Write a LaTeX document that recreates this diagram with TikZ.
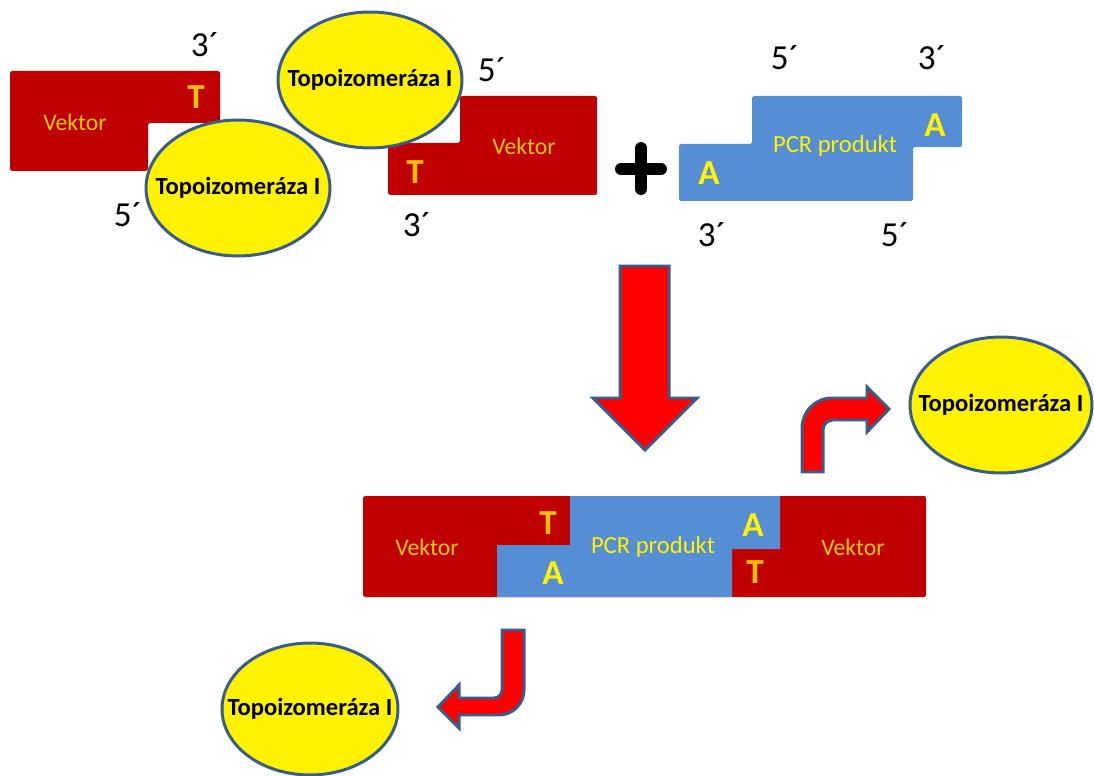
\documentclass[tikz,border=0pt]{standalone}
\usepackage{fontspec}
\setmainfont{Carlito}
\usepackage{xcolor}
\usepackage{tikz}
\usetikzlibrary{shapes,positioning,calc}

\definecolor{vecred}{RGB}{192,0,0}
\definecolor{pcrblue}{RGB}{85,142,213}
\definecolor{edgeblue}{RGB}{56,93,138}
\definecolor{baseorange}{RGB}{255,192,0}
\definecolor{vektext}{RGB}{225,200,0}

\begin{document}
\begin{tikzpicture}[x=0.02cm, y=-0.02cm,
    vec/.style={fill=vecred, rounded corners=1pt},
    pcr/.style={fill=pcrblue, rounded corners=1pt},
    topo/.style={draw=edgeblue, fill=yellow, ellipse, line width=1.7pt, inner sep=0pt, minimum width=3.68cm, minimum height=2.72cm},
    topotext/.style={font=\fontsize{14}{16}\selectfont\bfseries, text=black},
    vektor/.style={font=\fontsize{13.5}{16}\selectfont, text=vektext},
    pcrtext/.style={font=\fontsize{14}{16}\selectfont, text=yellow},
    baseT/.style={font=\fontsize{20}{24}\selectfont\bfseries, text=baseorange},
    baseA/.style={font=\fontsize{20}{24}\selectfont\bfseries, text=yellow},
    prime/.style={font=\fontsize{20}{24}\selectfont, text=black},
    blockarrow/.style={draw=edgeblue, fill=red, line width=1.7pt, line join=miter}
]
    \useasboundingbox (0,0) rectangle (1094,776);

    % Opened vector, left half
    \path[vec] (10,71) -- (220,71) -- (220,123) -- (148,123) -- (148,171) -- (10,171) -- cycle;
    \node [vektor] (vekL) at (75,122) {Vektor};
    \node [baseT] (tL) at (196,97) {T};
    \node [prime] (pL3) at (205,45) {3´};
    \node [prime] (pL5) at (128,215) {5´};
    \node [topo, label={[topotext]center:Topoizomeráza I}] (topoL) at (238,188) {};

    % Opened vector, right half
    \path[vec] (388,143) -- (460,143) -- (460,96) -- (597,96) -- (597,195) -- (388,195) -- cycle;
    \node [vektor] (vekR) at (524,146) {Vektor};
    \node [baseT] (tR) at (415,172) {T};
    \node [prime] (pR5) at (492,70) {5´};
    \node [prime] (pR3) at (417,225) {3´};
    \node [topo, label={[topotext]center:Topoizomeráza I}] (topoR) at (370,80) {};

    % Plus
    \draw [line width=6.8pt, line cap=round] (621,169) -- (661,169) (641,148) -- (641,189);

    % PCR product with A overhangs
    \path[pcr] (679,144) -- (752,144) -- (752,96) -- (962,96) -- (962,147) -- (913,147) -- (913,201) -- (679,201) -- cycle;
    \node [pcrtext] (pcr) at (835,146) {PCR produkt};
    \node [baseA] (aL) at (709,173) {A};
    \node [baseA] (aR) at (935,125) {A};
    \node [prime] (pP5) at (785,58) {5´};
    \node [prime] (pP3) at (932,58) {3´};
    \node [prime] (pP3b) at (712,235) {3´};
    \node [prime] (pP5b) at (895,235) {5´};

    % Ligation arrow
    \path[blockarrow] (620,266) -- (669,266) -- (669,398) -- (697,398) -- (645,450) -- (593,398) -- (620,398) -- cycle;

    % Ligated product
    \path[vec] (363,496) rectangle (926,597);
    \path[fill=pcrblue] (570,496) -- (780,496) -- (780,549) -- (732,549) -- (732,597) -- (497,597) -- (497,545) -- (570,545) -- cycle;
    \node [vektor] (vekBL) at (427,547) {Vektor};
    \node [vektor] (vekBR) at (853,547) {Vektor};
    \node [pcrtext] (pcrB) at (653,547) {PCR produkt};
    \node [baseT] (tBL) at (548,523) {T};
    \node [baseA] (aBL) at (553,573) {A};
    \node [baseA] (aBR) at (753,525) {A};
    \node [baseT] (tBR) at (755,572) {T};

    % Released enzymes
    \path[blockarrow] (802,472) -- (802,428) .. controls (802,411.4) and (815.4,398) .. (832,398) -- (867,398) -- (867,387) -- (889,409) -- (867,432) -- (867,420) -- (833,420) .. controls (827.5,420) and (823,424.5) .. (823,430) -- (823,472) -- cycle;
    \node [topo, minimum width=3.64cm, label={[topotext]center:Topoizomeráza I}] (topoOut1) at (1001,405) {};

    \path[blockarrow] (502,630) -- (524,630) -- (524,690) .. controls (524,703.8) and (512.8,715) .. (499,715) -- (459,715) -- (459,728) -- (438,707) -- (459,685) -- (459,698) -- (494,698) .. controls (498.4,698) and (502,694.4) .. (502,690) -- cycle;
    \node [topo, minimum width=3.52cm, minimum height=2.64cm, label={[topotext]center:Topoizomeráza I}] (topoOut2) at (310,709) {};

\end{tikzpicture}
\end{document}
